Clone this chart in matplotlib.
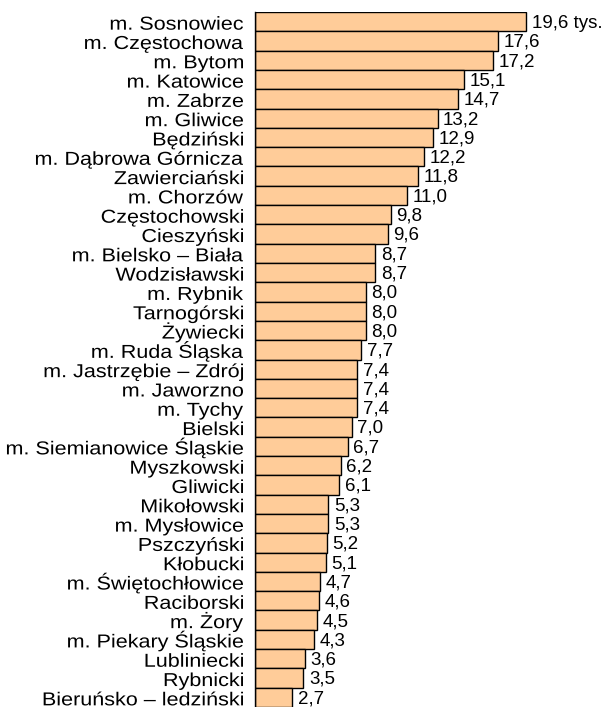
import matplotlib.pyplot as plt
from matplotlib.textpath import TextPath
from matplotlib.patches import PathPatch
from matplotlib.font_manager import FontProperties
from matplotlib.transforms import Affine2D, IdentityTransform

powiaty = ['m. Sosnowiec', 'm. Częstochowa', 'm. Bytom', 'm. Katowice', 'm. Zabrze',
           'm. Gliwice', 'Będziński', 'm. Dąbrowa Górnicza', 'Zawierciański', 'm. Chorzów',
           'Częstochowski', 'Cieszyński', 'm. Bielsko – Biała', 'Wodzisławski', 'm. Rybnik',
           'Tarnogórski', 'Żywiecki', 'm. Ruda Śląska', 'm. Jastrzębie – Zdrój', 'm. Jaworzno',
           'm. Tychy', 'Bielski', 'm. Siemianowice Śląskie', 'Myszkowski', 'Gliwicki',
           'Mikołowski', 'm. Mysłowice', 'Pszczyński', 'Kłobucki', 'm. Świętochłowice',
           'Raciborski', 'm. Żory', 'm. Piekary Śląskie', 'Lubliniecki', 'Rybnicki',
           'Bieruńsko – ledziński']
wartosci = [19.6, 17.6, 17.2, 15.1, 14.7, 13.2, 12.9, 12.2, 11.8, 11.0,
            9.8, 9.6, 8.7, 8.7, 8.0, 8.0, 8.0, 7.7, 7.4, 7.4,
            7.4, 7.0, 6.7, 6.2, 6.1, 5.3, 5.3, 5.2, 5.1, 4.7,
            4.6, 4.5, 4.3, 3.6, 3.5, 2.7]

plt.rcParams['font.family'] = ['Liberation Sans', 'DejaVu Sans']

fig = plt.figure(figsize=(6.06, 7.07), dpi=100)
ax = fig.add_axes([255 / 606, 0.0, 1 - 255 / 606, 1 - 12 / 707])

y = list(range(len(powiaty)))
ax.barh(y, wartosci, height=1.0, color='#FFCC99', edgecolor='black', linewidth=1)
ax.set_ylim(len(powiaty) - 0.5, -0.5)
ax.set_xlim(0, (606 - 255) / 13.83)

for i, v in enumerate(wartosci):
    txt = f'{v:.1f}'.replace('.', ',')
    if i == 0:
        txt += ' tys.'
    ax.annotate(txt, (v, i), xytext=(4, -1), textcoords='offset points',
                va='center', ha='left', fontsize=13.5)

# etykiety powiatow - w oryginale czcionka jest rozciagnieta w poziomie
fp = FontProperties(family='Liberation Sans')
rozm = 13.5 * fig.dpi / 72
sx = 1.15
for i, nazwa in enumerate(powiaty):
    tp = TextPath((0, 0), nazwa, size=rozm, prop=fp)
    ext = tp.get_extents()
    yc = ax.transData.transform((0, i))[1]
    tr = Affine2D().scale(sx, 1).translate(243 - ext.x1 * sx, yc - 8)
    fig.add_artist(PathPatch(tr.transform_path(tp), facecolor='black', lw=0,
                             transform=IdentityTransform()))

ax.set_yticks([])
ax.set_xticks([])
for s in ['top', 'right', 'bottom']:
    ax.spines[s].set_visible(False)
ax.spines['left'].set_linewidth(1)

fig.savefig('out.png', dpi=100)
